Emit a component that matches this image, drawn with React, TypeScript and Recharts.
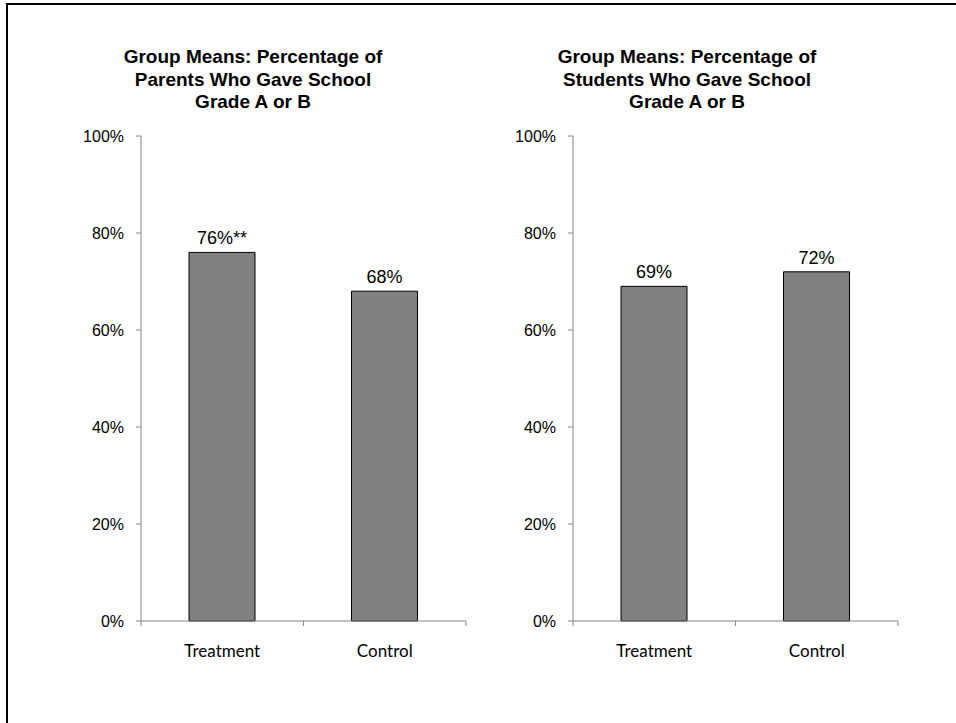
import { BarChart, Bar, XAxis, YAxis, LabelList } from "recharts";

const categories = ["Treatment", "Control"];
const parentValues = [0.76, 0.68];
const studentValues = [0.69, 0.72];
const parentMarks = ["**", ""];
const studentMarks = ["", ""];
const yTicks = [0, 0.2, 0.4, 0.6, 0.8, 1];

const parentTitle = ["Group Means: Percentage of", "Parents Who Gave School", "Grade A or B"];
const studentTitle = ["Group Means: Percentage of", "Students Who Gave School", "Grade A or B"];

const CHART_W = 480;
const CHART_H = 700;
const PLOT_W = 325;
const AXIS = "#868686";

const pct = (v: number) => `${Math.round(v * 100)}%`;

const buildRows = (values: number[], marks: string[]) =>
  categories.map((name, i) => ({
    name,
    value: values[i],
    label: pct(values[i]) + marks[i],
  }));

const CategoryTick = (props: any) => {
  const { x, y, payload } = props;
  const half = PLOT_W / categories.length / 2;
  return (
    <g>
      <line x1={x - half} x2={x - half} y1={y} y2={y + 5} stroke={AXIS} />
      <line x1={x + half} x2={x + half} y1={y} y2={y + 5} stroke={AXIS} />
      <text
        x={x}
        y={y + 36}
        textAnchor="middle"
        fontFamily="Lato, sans-serif"
        fontSize={17}
        fill="#000"
      >
        {payload.value}
      </text>
    </g>
  );
};

const GroupChart = ({ rows }: { rows: ReturnType<typeof buildRows> }) => (
  <BarChart
    width={CHART_W}
    height={CHART_H}
    data={rows}
    margin={{ top: 136, right: 14, left: 81, bottom: 39 }}
  >
    <XAxis
      dataKey="name"
      height={40}
      stroke={AXIS}
      tickLine={false}
      tickSize={0}
      tickMargin={0}
      tick={<CategoryTick />}
      interval={0}
    />
    <YAxis
      width={60}
      domain={[0, 1]}
      ticks={yTicks}
      tickFormatter={pct}
      stroke={AXIS}
      tickSize={5}
      tickMargin={12}
      tick={{ fill: "#000", fontSize: 16, fontFamily: "'Liberation Sans', Arial, sans-serif" }}
    />
    <Bar dataKey="value" fill="#808080" stroke="#000" strokeWidth={1} barSize={66} isAnimationActive={false}>
      <LabelList
        dataKey="label"
        position="top"
        offset={8}
        fill="#000"
        fontSize={18}
        fontFamily="'Liberation Sans', Arial, sans-serif"
      />
    </Bar>
  </BarChart>
);

const Title = ({ lines, center }: { lines: string[]; center: number }) => (
  <div
    style={{
      position: "absolute",
      left: center - 160,
      top: 46,
      width: 320,
      textAlign: "center",
      fontFamily: "'Liberation Sans', Arial, sans-serif",
      fontWeight: "bold",
      fontSize: 19,
      lineHeight: "22.5px",
      color: "#000",
    }}
  >
    {lines.map((l) => (
      <div key={l}>{l}</div>
    ))}
  </div>
);

export default function App() {
  return (
    <div
      style={{
        position: "absolute",
        left: 0,
        top: 0,
        width: 956,
        height: 723,
        overflow: "hidden",
        background: "#fff",
      }}
    >
      <div
        style={{
          position: "absolute",
          left: 6,
          top: 3,
          width: 1000,
          height: 800,
          border: "2px solid #000",
        }}
      />
      <Title lines={parentTitle} center={253} />
      <Title lines={studentTitle} center={687} />
      <div style={{ position: "absolute", left: 0, top: 0 }}>
        <GroupChart rows={buildRows(parentValues, parentMarks)} />
      </div>
      <div style={{ position: "absolute", left: 432, top: 0 }}>
        <GroupChart rows={buildRows(studentValues, studentMarks)} />
      </div>
    </div>
  );
}
